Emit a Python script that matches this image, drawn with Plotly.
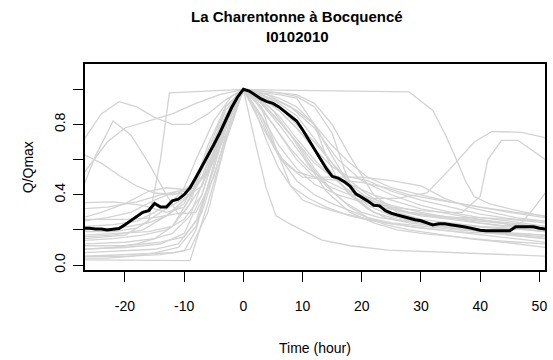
import plotly.graph_objects as go

# ---------------- data ----------------
title_line1 = "La Charentonne à Bocquencé"
title_line2 = "I0102010"
x_label = "Time (hour)"
y_label = "Q/Qmax"

x_tick_vals = [-20, -10, 0, 10, 20, 30, 40, 50]
x_tick_text = ["-20", "-10", "0", "10", "20", "30", "40", "50"]
y_tick_vals = [0.0, 0.2, 0.4, 0.6, 0.8, 1.0]
y_tick_text = ["0.0", "", "0.4", "", "0.8", ""]

# black (mean) hydrograph, hourly
mean_hours = list(range(-27, 52))
mean_q = [0.21, 0.21, 0.205, 0.205, 0.199, 0.203, 0.208, 0.23, 0.254, 0.28,
          0.30, 0.31, 0.35, 0.33, 0.33, 0.365, 0.375, 0.40, 0.44, 0.50,
          0.56, 0.62, 0.685, 0.75, 0.82, 0.895, 0.955, 1.0, 0.99, 0.965,
          0.945, 0.93, 0.92, 0.90, 0.875, 0.85, 0.82, 0.77, 0.715, 0.66,
          0.605, 0.55, 0.505, 0.495, 0.475, 0.45, 0.405, 0.385, 0.365, 0.34,
          0.337, 0.31, 0.295, 0.285, 0.275, 0.265, 0.258, 0.252, 0.24, 0.228,
          0.235, 0.235, 0.23, 0.227, 0.22, 0.213, 0.205, 0.198, 0.195, 0.195,
          0.195, 0.195, 0.195, 0.218, 0.218, 0.218, 0.218, 0.21, 0.205]

# grey individual events (hours, Q/Qmax)
ev01_h = [-27, -24, -21, -18, -15, -12, -9, -6, -3, 0, 3, 6, 9, 12, 15, 18, 21, 25, 30, 35, 40, 45, 51]
ev01_q = [0.71, 0.86, 0.93, 0.90, 0.84, 0.80, 0.80, 0.86, 0.94, 1.0, 0.97, 0.93, 0.88, 0.80, 0.68, 0.58, 0.50, 0.44, 0.40, 0.36, 0.33, 0.30, 0.27]
ev02_h = [-27, -25, -22, -19, -16, -13, -11, -8, -5, -2, 0, 2, 5, 8, 11, 14, 17, 20, 25, 30, 35, 40, 45, 51]
ev02_q = [0.45, 0.62, 0.82, 0.74, 0.58, 0.40, 0.29, 0.30, 0.50, 0.85, 1.0, 0.93, 0.80, 0.66, 0.55, 0.48, 0.43, 0.40, 0.34, 0.30, 0.27, 0.24, 0.22, 0.19]
ev03_h = [-27, -23, -20, -16, -12, -8, -4, 0, 4, 8, 12, 16, 20, 25, 30, 35, 40, 45, 51]
ev03_q = [0.52, 0.70, 0.78, 0.82, 0.86, 0.92, 0.97, 1.0, 0.97, 0.90, 0.78, 0.60, 0.48, 0.40, 0.34, 0.30, 0.27, 0.25, 0.22]
ev04_h = [-27, -24, -21, -18, -15, -12, -9, -6, -3, 0, 3, 6, 9, 12, 15, 18, 22, 26, 30, 35, 40, 45, 51]
ev04_q = [0.63, 0.58, 0.51, 0.45, 0.41, 0.40, 0.43, 0.52, 0.74, 1.0, 0.92, 0.82, 0.70, 0.58, 0.50, 0.46, 0.40, 0.36, 0.32, 0.29, 0.26, 0.23, 0.20]
ev05_h = [-27, -20, -16, -14, -12.5, -6, 0, 6, 16, 28, 32, 34, 36, 37.5, 39, 41.5, 45, 51]
ev05_q = [0.15, 0.17, 0.25, 0.60, 0.98, 0.99, 1.0, 0.995, 0.99, 0.985, 0.88, 0.75, 0.60, 0.48, 0.39, 0.35, 0.32, 0.275]
ev06_h = [-27, -20, -15, -10, -7, -4, 0, 3, 6, 9, 12, 15, 18, 22, 26, 31, 35, 39, 42, 47, 51]
ev06_q = [0.26, 0.26, 0.27, 0.30, 0.45, 0.75, 1.0, 0.90, 0.75, 0.60, 0.50, 0.44, 0.40, 0.38, 0.38, 0.41, 0.55, 0.70, 0.76, 0.755, 0.725]
ev07_h = [-27, -20, -14, -10, -7, -4, 0, 3, 6, 9, 12, 16, 20, 25, 30, 34, 37, 40, 41.3, 43.6, 46.4, 51]
ev07_q = [0.09, 0.10, 0.12, 0.18, 0.40, 0.72, 1.0, 0.85, 0.68, 0.55, 0.46, 0.40, 0.36, 0.33, 0.31, 0.30, 0.30, 0.39, 0.60, 0.71, 0.71, 0.60]
ev08_h = [-27, -18, -12, -9, -6, -3, 0, 2, 3.8, 5.5, 7.7, 13.3, 18, 24.5, 35, 45, 51]
ev08_q = [0.05, 0.06, 0.07, 0.09, 0.30, 0.70, 1.0, 0.70, 0.445, 0.28, 0.237, 0.142, 0.11, 0.085, 0.07, 0.06, 0.051]
ev09_h = [-27, -15, -9, -6, -3, 0, 3, 6, 10, 14, 18, 22, 26, 30, 36, 42, 51]
ev09_q = [0.03, 0.028, 0.025, 0.35, 0.70, 1.0, 0.92, 0.80, 0.62, 0.42, 0.30, 0.24, 0.20, 0.18, 0.16, 0.14, 0.12]
ev10_h = [-27, -20, -15, -11, -8, -5, -2, 0, 3, 6, 9, 12, 15, 18, 21, 25, 30, 35, 40, 45, 51]
ev10_q = [0.07, 0.08, 0.09, 0.12, 0.25, 0.55, 0.88, 1.0, 0.98, 0.95, 0.90, 0.80, 0.62, 0.45, 0.34, 0.28, 0.24, 0.21, 0.19, 0.17, 0.15]
ev11_h = [-27, -22, -17, -13, -10, -7, -4, -1, 0, 3, 6, 9, 12, 15, 18, 21, 24, 28, 33, 38, 44, 51]
ev11_q = [0.355, 0.36, 0.34, 0.30, 0.33, 0.50, 0.78, 0.98, 1.0, 0.95, 0.88, 0.78, 0.66, 0.52, 0.40, 0.32, 0.27, 0.24, 0.22, 0.20, 0.18, 0.16]
ev12_h = [-27, -23, -19, -15, -12, -9, -6, -3, 0, 3, 6, 9, 12, 15, 18, 21, 25, 30, 36, 42, 51]
ev12_q = [0.25, 0.27, 0.30, 0.37, 0.41, 0.40, 0.55, 0.80, 1.0, 0.85, 0.62, 0.48, 0.40, 0.35, 0.31, 0.27, 0.24, 0.22, 0.20, 0.19, 0.17]
ev13_h = [-27, -22, -18, -14, -10, -7, -4, -1, 0, 2, 4, 7, 10, 13, 16, 20, 24, 28, 33, 40, 46, 51]
ev13_q = [0.19, 0.19, 0.21, 0.30, 0.38, 0.45, 0.70, 0.97, 1.0, 0.90, 0.75, 0.58, 0.50, 0.49, 0.48, 0.47, 0.44, 0.40, 0.37, 0.33, 0.30, 0.28]
ev14_h = [-27, -20, -15, -12, -9, -6, -3, 0, 3, 6, 9, 12, 15, 18, 21, 24, 28, 32, 36, 40, 45, 51]
ev14_q = [0.12, 0.13, 0.15, 0.18, 0.28, 0.55, 0.85, 1.0, 0.97, 0.90, 0.80, 0.70, 0.58, 0.48, 0.40, 0.34, 0.30, 0.28, 0.27, 0.27, 0.26, 0.24]
ev15_h = [-27, -21, -16, -12, -9, -6, -3, 0, 3, 6, 9, 12, 15, 18, 22, 26, 30, 35, 40, 45, 51]
ev15_q = [0.17, 0.18, 0.19, 0.22, 0.35, 0.65, 0.90, 1.0, 0.99, 0.98, 0.97, 0.92, 0.80, 0.62, 0.40, 0.30, 0.26, 0.24, 0.22, 0.21, 0.19]
ev16_h = [-27, -22, -17, -13, -10, -7, -5, -3, 0, 2, 4, 6, 8, 11, 14, 18, 22, 26, 30, 36, 42, 51]
ev16_q = [0.14, 0.15, 0.17, 0.20, 0.26, 0.40, 0.62, 0.85, 1.0, 0.88, 0.70, 0.55, 0.45, 0.38, 0.33, 0.28, 0.25, 0.23, 0.21, 0.19, 0.18, 0.15]
ev17_h = [-27, -23, -18, -14, -11, -8, -5, -2, 0, 3, 6, 9, 12, 15, 17, 19, 22, 26, 30, 35, 40, 45, 51]
ev17_q = [0.32, 0.33, 0.36, 0.40, 0.42, 0.44, 0.60, 0.90, 1.0, 0.99, 0.98, 0.96, 0.90, 0.75, 0.55, 0.38, 0.30, 0.26, 0.24, 0.22, 0.20, 0.18, 0.17]
ev18_h = [-27, -22, -18, -15, -12, -10, -8, -5, -2, 0, 3, 6, 9, 12, 15, 18, 21, 25, 30, 35, 40, 46, 51]
ev18_q = [0.22, 0.23, 0.25, 0.30, 0.36, 0.44, 0.60, 0.82, 0.96, 1.0, 0.96, 0.88, 0.78, 0.66, 0.56, 0.50, 0.48, 0.42, 0.37, 0.33, 0.29, 0.26, 0.25]
ev19_h = [-27, -20, -14, -10, -8, -6, -4, -2, 0, 3, 6, 9, 12, 15, 18, 21, 24, 28, 32, 38, 44, 51]
ev19_q = [0.05, 0.05, 0.06, 0.08, 0.20, 0.45, 0.70, 0.90, 1.0, 0.93, 0.82, 0.70, 0.55, 0.42, 0.33, 0.27, 0.23, 0.20, 0.18, 0.15, 0.13, 0.10]
ev20_h = [-27, -24, -20, -16, -13, -10, -7, -4, -1, 0, 3, 6, 9, 12, 14, 16, 19, 23, 28, 33, 39, 45, 51]
ev20_q = [0.27, 0.30, 0.35, 0.42, 0.44, 0.43, 0.50, 0.72, 0.95, 1.0, 0.98, 0.97, 0.95, 0.80, 0.62, 0.48, 0.38, 0.33, 0.30, 0.28, 0.26, 0.24, 0.21]
ev21_h = [-27, -22, -18, -15, -12, -9, -6, -3, 0, 3, 6, 8, 10, 13, 16, 20, 24, 28, 33, 38, 44, 51]
ev21_q = [0.09, 0.10, 0.12, 0.15, 0.22, 0.38, 0.62, 0.88, 1.0, 0.90, 0.62, 0.45, 0.37, 0.33, 0.30, 0.27, 0.24, 0.22, 0.20, 0.18, 0.16, 0.13]
ev22_h = [-27, -21, -16, -13, -10, -8, -6, -3, 0, 3, 6, 9, 12, 15, 18, 21, 25, 29, 34, 40, 46, 51]
ev22_q = [0.20, 0.21, 0.24, 0.28, 0.35, 0.48, 0.68, 0.90, 1.0, 0.97, 0.92, 0.85, 0.72, 0.58, 0.46, 0.38, 0.32, 0.29, 0.27, 0.25, 0.23, 0.22]
ev23_h = [-27, -23, -19, -15, -11, -8, -5, -2, 0, 2, 5, 8, 11, 14, 17, 20, 23, 27, 31, 36, 42, 48, 51]
ev23_q = [0.04, 0.04, 0.05, 0.07, 0.10, 0.22, 0.55, 0.92, 1.0, 0.97, 0.88, 0.74, 0.58, 0.45, 0.36, 0.30, 0.27, 0.25, 0.24, 0.23, 0.21, 0.20, 0.19]
ev24_h = [-27, -20, -14, -10, -7, -4, 0, 3, 6, 9, 12, 15, 18, 22, 26, 30, 35, 40, 44, 47, 49, 51]
ev24_q = [0.11, 0.11, 0.13, 0.16, 0.30, 0.62, 1.0, 0.94, 0.85, 0.72, 0.60, 0.50, 0.42, 0.36, 0.31, 0.28, 0.26, 0.24, 0.22, 0.24, 0.32, 0.41]
ev25_h = [-27, -22, -17, -13, -9, -6, -3, 0, 3, 6, 9, 12, 16, 20, 25, 30, 34, 38, 42, 46, 51]
ev25_q = [0.16, 0.17, 0.20, 0.28, 0.40, 0.55, 0.80, 1.0, 0.80, 0.62, 0.53, 0.50, 0.50, 0.50, 0.48, 0.45, 0.38, 0.33, 0.30, 0.27, 0.25]

events = [
    (ev01_h, ev01_q), (ev02_h, ev02_q), (ev03_h, ev03_q), (ev04_h, ev04_q),
    (ev05_h, ev05_q), (ev06_h, ev06_q), (ev07_h, ev07_q), (ev08_h, ev08_q),
    (ev09_h, ev09_q), (ev10_h, ev10_q), (ev11_h, ev11_q), (ev12_h, ev12_q),
    (ev13_h, ev13_q), (ev14_h, ev14_q), (ev15_h, ev15_q), (ev16_h, ev16_q),
    (ev17_h, ev17_q), (ev18_h, ev18_q), (ev19_h, ev19_q), (ev20_h, ev20_q),
    (ev21_h, ev21_q), (ev22_h, ev22_q), (ev23_h, ev23_q), (ev24_h, ev24_q),
    (ev25_h, ev25_q),
]

# ---------------- figure ----------------
FONT = "Liberation Sans, Arial, sans-serif"
W, H = 553, 360
ML, MR, MT, MB = 85, 6, 64, 90
PW, PH = W - ML - MR, H - MT - MB

def px_x(px):
    return (px - ML) / PW

def px_y(py):
    return (H - MB - py) / PH

fig = go.Figure()
for h, q in events:
    fig.add_trace(go.Scatter(x=h, y=q, mode="lines",
                             line=dict(color="#D3D3D3", width=1.3),
                             hoverinfo="skip", showlegend=False))
fig.add_trace(go.Scatter(x=mean_hours, y=mean_q, mode="lines",
                         line=dict(color="black", width=3),
                         showlegend=False))

fig.update_layout(
    width=W, height=H,
    margin=dict(l=ML, r=MR, t=MT, b=MB, pad=0),
    paper_bgcolor="white", plot_bgcolor="white",
    font=dict(family=FONT, size=14, color="black"),
    showlegend=False,
    xaxis=dict(range=[-26.75, 50.95], tickvals=x_tick_vals, ticktext=x_tick_text,
               ticks="outside", ticklen=10, tickwidth=1.2, tickcolor="black",
               showline=True, linecolor="black", linewidth=1.5, mirror=True,
               showgrid=False, zeroline=False, ticklabelstandoff=12,
               tickfont=dict(size=14)),
    yaxis=dict(range=[-0.028, 1.144], tickvals=y_tick_vals, ticktext=y_tick_text,
               ticks="outside", ticklen=10, tickwidth=1.2, tickcolor="black",
               showline=True, linecolor="black", linewidth=1.5, mirror=True,
               showgrid=False, zeroline=False, tickangle=-90,
               ticklabelstandoff=3, tickfont=dict(size=14)),
    annotations=[
        dict(text="<b>" + title_line1 + "</b>", xref="paper", yref="paper",
             x=px_x(298), y=px_y(16.7), xanchor="center", yanchor="middle",
             showarrow=False, font=dict(size=15)),
        dict(text="<b>" + title_line2 + "</b>", xref="paper", yref="paper",
             x=px_x(298), y=px_y(36.5), xanchor="center", yanchor="middle",
             showarrow=False, font=dict(size=15)),
        dict(text=x_label, xref="paper", yref="paper",
             x=px_x(316), y=px_y(348), xanchor="center", yanchor="middle",
             showarrow=False, font=dict(size=14)),
        dict(text=y_label, xref="paper", yref="paper", textangle=-90,
             x=px_x(28), y=px_y(167), xanchor="center", yanchor="middle",
             showarrow=False, font=dict(size=14)),
    ],
)

fig.write_html("out.html", config={"displayModeBar": False},
               post_script="document.body.style.margin='0';document.body.style.padding='0';")
